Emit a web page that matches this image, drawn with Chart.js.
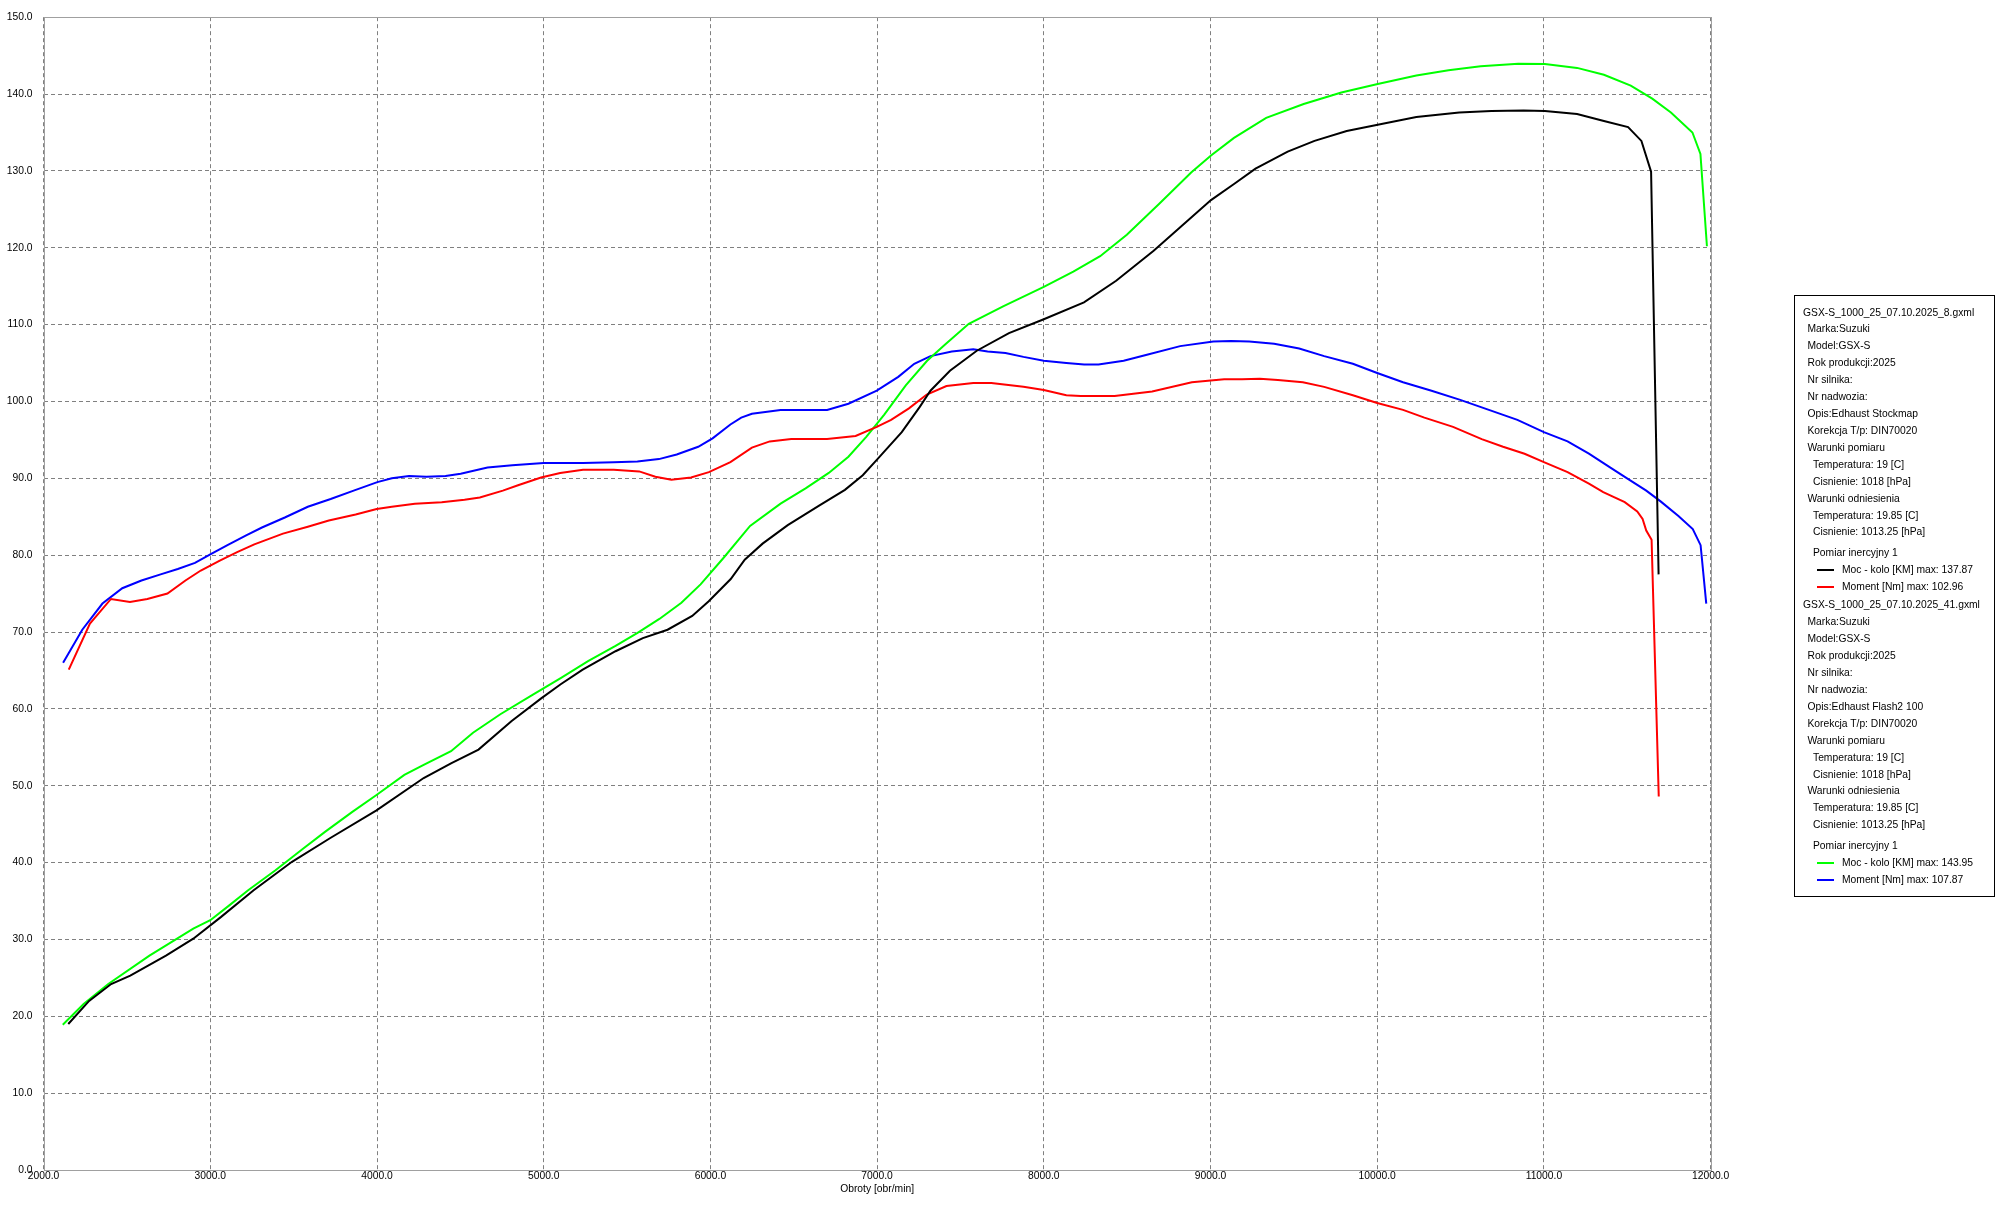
<!DOCTYPE html>
<html><head><meta charset="utf-8">
<script src="https://cdn.jsdelivr.net/npm/chart.js@4.4.1/dist/chart.umd.min.js"></script>
<style>
html,body{margin:0;padding:0;background:#fff;}
#wrap{position:relative;width:2000px;height:1208px;background:#fff;overflow:hidden;}
#c{position:absolute;left:0;top:0;}
#legendBox{position:absolute;left:1794px;top:295px;width:201px;height:602px;border:1px solid #000;box-sizing:border-box;}
.ll{position:absolute;white-space:pre;font-family:"Liberation Sans",Arial,sans-serif;font-size:10.3px;color:#000;line-height:14px;height:14px;}
.sw{position:absolute;height:2px;width:17px;}
</style>
</head><body>
<div id="wrap"><canvas id="c" width="2000" height="1208"></canvas><div id="legendBox"></div></div>
<script>
// ---- Data ----
const xTicks = [2000,3000,4000,5000,6000,7000,8000,9000,10000,11000,12000];
const yTicks = [0,10,20,30,40,50,60,70,80,90,100,110,120,130,140,150];
const axisTitleX = "Obroty [obr/min]";

// Stock map - power (black)
const rpmPowerStock = [2148,2273,2405,2520,2734,2898,3063,3260,3490,3720,3997,4280,4444,4609,4806,4987,5102,5234,5431,5595,5743,5891,5990,6122,6206,6313,6464,6657,6807,6914,6998,7148,7256,7320,7437,7598,7791,8000,8241,8434,8659,8820,9003,9141,9270,9463,9624,9817,10003,10235,10492,10685,10878,11006,11199,11360,11505,11585,11643,11688];
const powerStock    = [19.0,22.0,24.2,25.3,27.9,30.1,32.9,36.4,40.1,43.2,46.8,51.0,52.9,54.7,58.4,61.4,63.2,65.1,67.5,69.2,70.3,72.1,74.0,76.9,79.4,81.5,83.9,86.5,88.5,90.4,92.4,96.0,99.3,101.4,104.0,106.6,108.9,110.7,112.9,115.7,119.6,122.7,126.2,128.3,130.3,132.5,133.9,135.2,136.0,137.0,137.6,137.8,137.87,137.8,137.4,136.5,135.7,133.9,129.9,77.5];

// Stock map - torque (red)
const rpmTorqueStock = [2151,2278,2404,2518,2622,2743,2851,2943,3057,3161,3264,3436,3585,3711,3872,3998,4089,4227,4388,4525,4617,4755,4846,4984,5099,5236,5420,5573,5670,5766,5884,5991,6120,6249,6356,6485,6700,6871,6998,7084,7191,7298,7416,7577,7685,7878,8000,8135,8221,8425,8650,8888,9082,9189,9296,9404,9554,9682,9854,10000,10155,10283,10455,10627,10755,10884,11000,11142,11270,11356,11485,11560,11592,11614,11646,11689];
const torqueStock    = [65.1,71.1,74.3,73.9,74.3,75.0,76.7,78.0,79.3,80.4,81.4,82.8,83.7,84.5,85.3,86.0,86.3,86.7,86.9,87.2,87.5,88.4,89.1,90.1,90.7,91.1,91.1,90.9,90.2,89.8,90.1,90.8,92.1,94.0,94.8,95.1,95.1,95.5,96.7,97.6,99.1,100.9,102.0,102.4,102.4,101.9,101.5,100.8,100.7,100.7,101.3,102.5,102.9,102.9,102.96,102.8,102.5,101.9,100.8,99.8,98.9,97.9,96.7,95.1,94.1,93.2,92.1,90.8,89.3,88.2,86.9,85.7,84.7,83.2,82.0,48.6];

// Flash map - power (green)
const rpmPowerFlash = [2115,2240,2388,2635,2898,3000,3112,3227,3391,3556,3688,3852,3997,4164,4280,4444,4576,4740,4938,5102,5266,5431,5563,5694,5826,5941,6077,6238,6421,6571,6710,6828,6935,7043,7172,7300,7408,7550,7759,8000,8177,8338,8498,8691,8884,9003,9141,9334,9559,9785,10003,10235,10428,10621,10846,11006,11199,11360,11521,11650,11762,11891,11939,11978];
const powerFlash    = [18.9,21.6,24.2,27.9,31.4,32.5,34.4,36.4,39.0,41.8,44.0,46.6,48.8,51.4,52.7,54.5,56.9,59.3,61.9,64.0,66.2,68.2,69.9,71.7,73.8,76.2,79.6,83.8,86.7,88.7,90.7,92.8,95.4,98.3,102.1,105.3,107.4,110.1,112.4,114.9,116.9,118.9,121.7,125.7,129.8,132.0,134.3,136.9,138.7,140.2,141.3,142.4,143.1,143.6,143.95,143.9,143.4,142.5,141.1,139.4,137.6,135.0,132.2,120.2];

// Flash map - torque (blue)
const rpmTorqueFlash = [2117,2232,2353,2472,2587,2702,2805,2908,3000,3103,3218,3310,3447,3585,3722,3860,4002,4089,4192,4296,4411,4502,4663,4812,5000,5236,5420,5562,5691,5798,5927,6013,6120,6185,6249,6421,6700,6828,6998,7127,7223,7320,7448,7577,7663,7770,7878,8000,8135,8242,8328,8479,8607,8818,9017,9124,9232,9382,9532,9682,9854,10000,10155,10326,10498,10670,10841,11000,11142,11270,11399,11506,11614,11700,11807,11893,11940,11974];
const torqueFlash    = [66.0,70.3,73.7,75.7,76.7,77.5,78.2,79.0,80.1,81.3,82.6,83.6,84.9,86.3,87.3,88.4,89.5,90.0,90.3,90.2,90.3,90.6,91.4,91.7,92.0,92.0,92.1,92.2,92.5,93.1,94.1,95.2,97.0,97.9,98.4,98.9,98.9,99.7,101.4,103.2,104.9,105.9,106.5,106.8,106.5,106.3,105.8,105.3,105.0,104.8,104.8,105.3,106.0,107.2,107.8,107.87,107.8,107.5,106.9,105.9,104.9,103.7,102.5,101.4,100.2,98.9,97.6,96.0,94.8,93.2,91.4,89.9,88.4,87.0,85.1,83.4,81.3,73.7];

// Legend / description texts
const fileNames = ["GSX-S_1000_25_07.10.2025_8.gxml","GSX-S_1000_25_07.10.2025_41.gxml"];
const descriptions = ["Opis:Edhaust Stockmap","Opis:Edhaust Flash2 100"];
const seriesLabels = [["Moc - kolo [KM]","Moment [Nm]"],["Moc - kolo [KM]","Moment [Nm]"]];
const seriesColors = [["#000000","#ff0000"],["#00ff00","#0000ff"]];

// ---- Build ----
const pts = (xs, ys) => xs.map((x,i)=>({x:x, y:ys[i]}));
const seriesData = [[pts(rpmPowerStock,powerStock), pts(rpmTorqueStock,torqueStock)],
                    [pts(rpmPowerFlash,powerFlash), pts(rpmTorqueFlash,torqueFlash)]];
const FONT = {family:'"Liberation Sans", Arial, sans-serif', size:10.3};

const datasets = [];
seriesData.forEach((pair, b) => pair.forEach((d, s) => {
  datasets.push({label: seriesLabels[b][s], data: d, borderColor: seriesColors[b][s],
    backgroundColor: seriesColors[b][s], borderWidth: 2, pointRadius: 0, tension: 0, fill:false});
}));

const frame = {
  id:'frame',
  beforeDatasetsDraw(chart){
    const {ctx, chartArea:a} = chart;
    ctx.save();
    ctx.strokeStyle = '#a0a0a0'; ctx.lineWidth = 1;
    ctx.strokeRect(Math.round(a.left)+0.5, Math.round(a.top)+0.5, Math.round(a.right-a.left), Math.round(a.bottom-a.top));
    ctx.restore();
  }
};

new Chart(document.getElementById('c'), {
  type:'line',
  data:{datasets},
  options:{
    responsive:false, animation:false, devicePixelRatio:1,
    layout:{padding:{left:0, right:289.4, top:16, bottom:0}},
    plugins:{legend:{display:false}, tooltip:{enabled:false}},
    scales:{
      x:{type:'linear', min:2000, max:12000,
        afterBuildTicks:(s)=>{ s.ticks = xTicks.map(v=>({value:v})); },
        afterFit:(s)=>{ s.height = 38; },
        grid:{color:'#808080', lineWidth:1, drawTicks:false},
        border:{display:false, dash:[4,3]},
        ticks:{padding:0, color:'#000', font:FONT, maxRotation:0, autoSkip:false, callback:(v)=>Number(v).toFixed(1)},
        title:{display:true, text:axisTitleX, color:'#000', font:FONT, padding:{top:0,bottom:13}}
      },
      y:{type:'linear', min:0, max:150,
        afterBuildTicks:(s)=>{ s.ticks = yTicks.map(v=>({value:v})); },
        afterFit:(s)=>{ s.width = 43.6; },
        grid:{color:'#808080', lineWidth:1, drawTicks:false},
        border:{display:false, dash:[4,3]},
        ticks:{padding:11, color:'#000', font:FONT, autoSkip:false, callback:(v)=>Number(v).toFixed(1)}
      }
    }
  },
  plugins:[frame]
});

// ---- Legend (HTML text) ----
const wrap = document.getElementById('wrap');
function addText(txt, x, yc){
  const d = document.createElement('div'); d.className='ll'; d.textContent = txt;
  d.style.left = x+'px'; d.style.top = (yc-7)+'px'; wrap.appendChild(d);
}
function addSwatch(color, x, yc){
  const d = document.createElement('div'); d.className='sw'; d.style.background = color;
  d.style.left = x+'px'; d.style.top = (yc-1)+'px'; wrap.appendChild(d);
}
const blockStarts = [312.5, 605.3];
const LH = 16.92;
fileNames.forEach((fn, b) => {
  let y = blockStarts[b];
  const lines = [
    [fn,0],["Marka:Suzuki",1],["Model:GSX-S",1],["Rok produkcji:2025",1],["Nr silnika:",1],["Nr nadwozia:",1],
    [descriptions[b],1],["Korekcja T/p: DIN70020",1],["Warunki pomiaru",1],["Temperatura: 19 [C]",2],["Cisnienie: 1018 [hPa]",2],
    ["Warunki odniesienia",1],["Temperatura: 19.85 [C]",2],["Cisnienie: 1013.25 [hPa]",2]
  ];
  const indent = [1803, 1807.5, 1813];
  lines.forEach((l,i) => addText(l[0], indent[l[1]], y + i*LH));
  y = y + (lines.length-1)*LH + 21;
  addText("Pomiar inercyjny 1", 1813, y);
  seriesData[b].forEach((d, s) => {
    y += 16.8;
    const mx = Math.max(...d.map(p=>p.y));
    addSwatch(seriesColors[b][s], 1817, y);
    addText(seriesLabels[b][s] + " max: " + mx.toFixed(2), 1842, y);
  });
});
</script>
</body></html>
